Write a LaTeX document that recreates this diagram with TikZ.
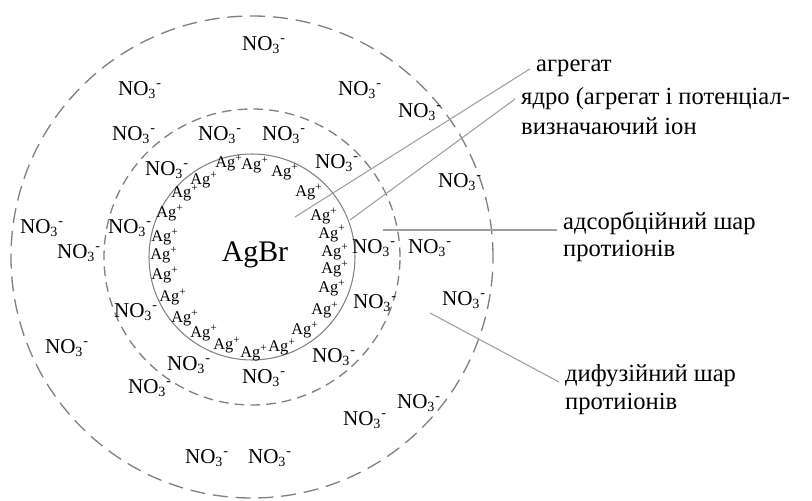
\documentclass[tikz,border=0pt]{standalone}
\usepackage{fontspec}
\setmainfont{Liberation Serif}
\usepackage{tikz}
\usetikzlibrary{backgrounds}
\pgfdeclarelayer{background}
\pgfsetlayers{background,main}

\begin{document}
\begin{tikzpicture}

    \useasboundingbox (0, 0) rectangle (16.24, 10.02);

    % Micelle shells
    \tikzset{coreS/.style={draw = gray, line width = 0.6pt}}
    \tikzset{adsS/.style={draw = gray, line width = 0.75pt, dash pattern = on 5.5pt off 3.5pt}}
    \tikzset{difS/.style={draw = gray, line width = 0.75pt, dash pattern = on 8.5pt off 4.5pt}}

    % Ions and labels
    \tikzset{ion/.style={inner sep = 0pt, font = \fontsize{12}{12}\selectfont}}
    \tikzset{agI/.style={inner sep = 0pt, font = \fontsize{9.3}{9.3}\selectfont}}
    \tikzset{lbl/.style={anchor = base west, font = \fontsize{14}{16}\selectfont}}
    \tikzset{lead/.style={draw = gray!75, line width = 0.6pt}}

    % Centre
    \coordinate (c) at (5.04, 4.88);
    \node (agbr) [font = \fontsize{17}{17}\selectfont] at (5.10, 4.92) {AgBr};

    % Potential-determining ions
    \foreach \x/\y [count = \i] in {4.58/6.76, 5.10/6.72, 5.70/6.58, 6.18/6.18, 6.48/5.70,
        6.64/5.35, 6.70/4.98, 6.70/4.64, 6.64/4.26, 6.50/3.82, 6.10/3.42, 5.64/3.08,
        5.08/2.96, 4.54/3.12, 4.08/3.36, 3.70/3.66, 3.46/4.08, 3.30/4.52, 3.28/4.92,
        3.30/5.28, 3.40/5.76, 3.70/6.16, 4.08/6.42}
        \node (ag\i) [agI] at (\x, \y) {Ag\textsuperscript{+}};

    % Counter-ions
    \foreach \x/\y [count = \i] in {5.28/9.12, 2.80/8.22, 7.20/8.22, 8.40/7.78, 2.68/7.32,
        4.40/7.32, 5.68/7.32, 3.34/6.62, 6.74/6.76, 9.20/6.38, 0.84/5.46, 2.60/5.46,
        1.58/4.96, 7.48/5.06, 8.60/5.06, 2.72/3.78, 7.50/3.96, 9.28/4.02, 1.34/3.06,
        3.78/2.72, 6.68/2.88, 3.00/2.26, 5.28/2.46, 8.38/1.96, 7.30/1.62, 4.14/0.86,
        5.40/0.86}
        \node (no\i) [ion] at (\x, \y) {NO\textsubscript{3}\textsuperscript{-}};

    % Labels
    \node (agr) [lbl] at (10.60, 8.58) {агрегат};
    \node (yad1) [lbl] at (10.30, 7.92) {ядро (агрегат і потенціал-};
    \node (yad2) [lbl] at (10.30, 7.32) {визначаючий іон};
    \node (ads1) [lbl] at (11.14, 5.42) {адсорбційний шар};
    \node (ads2) [lbl] at (11.14, 4.88) {протиіонів};
    \node (dif1) [lbl] at (11.18, 2.38) {дифузійний шар};
    \node (dif2) [lbl] at (11.18, 1.82) {протиіонів};

    % Leader starts
    \coordinate (sAgr) at (5.90, 5.68);
    \coordinate (sYad) at (7.00, 5.62);
    \coordinate (sAds) at (7.66, 5.42);
    \coordinate (sDif) at (8.60, 3.76);

    % Background image
    \begin{pgfonlayer}{background}

        \path[coreS] (c) circle (2.06);
        \path[adsS] (c) circle (2.96);
        \path[difS] (c) circle (4.82);

        \path[lead] (sAgr) -- (agr.west);
        \path[lead] (sYad) -- (yad1.west);
        \path[lead] (sAds) -- (ads1.base west);
        \path[lead] (sDif) -- (dif1.base west);

    \end{pgfonlayer}

\end{tikzpicture}
\end{document}
